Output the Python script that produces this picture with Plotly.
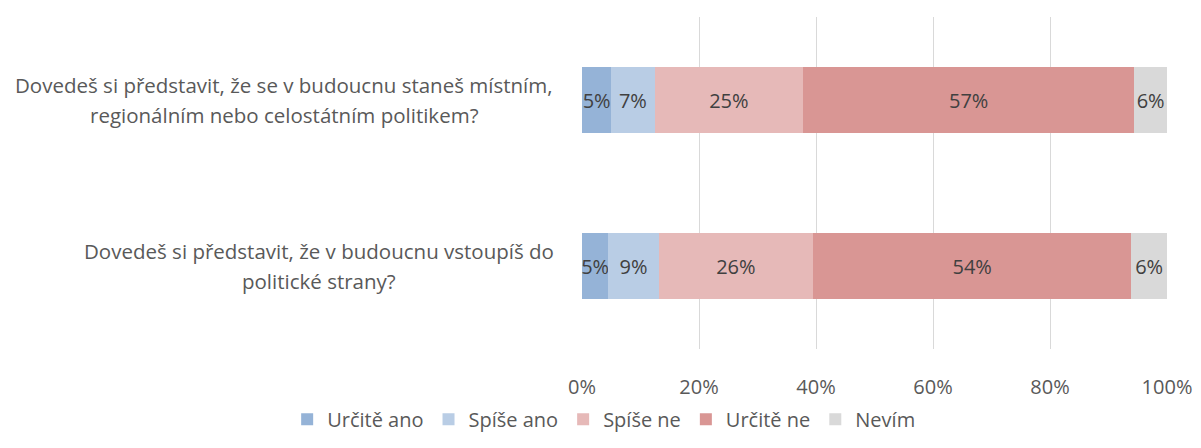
import plotly.graph_objects as go

questions = [
    "Dovedeš si představit, že se v budoucnu staneš místním, regionálním nebo celostátním politikem?",
    "Dovedeš si představit, že v budoucnu vstoupíš do politické strany?",
]
question_lines = [
    ["Dovedeš si představit, že se v budoucnu staneš místním,", "regionálním nebo celostátním politikem?"],
    ["Dovedeš si představit, že v budoucnu vstoupíš do", "politické strany?"],
]
series_names = ["Určitě ano", "Spíše ano", "Spíše ne", "Určitě ne", "Nevím"]
urcite_ano = [5.0, 4.5]
spise_ano = [7.4, 8.6]
spise_ne = [25.4, 26.4]
urcite_ne = [56.6, 54.4]
nevim = [5.6, 6.1]
series_values = [urcite_ano, spise_ano, spise_ne, urcite_ne, nevim]
colors = ["#95B3D7", "#B9CDE5", "#E6B9B8", "#D99694", "#D9D9D9"]
x_ticks = [0, 20, 40, 60, 80, 100]
x_tick_labels = [f"{v}%" for v in x_ticks]

FONT = "Open Sans, sans-serif"

fig = go.Figure()
for name, vals, col in zip(series_names, series_values, colors):
    fig.add_trace(go.Bar(
        y=questions, x=vals, name=name, orientation="h",
        marker=dict(color=col, line=dict(width=0)),
        texttemplate="%{x:.0f}%", textposition="inside", textangle=0,
        insidetextanchor="middle", constraintext="none",
        textfont=dict(family=FONT, size=20, color="#404040"),
        cliponaxis=False, hoverinfo="skip",
    ))

centers = [-0.5094, -0.4497]
for q, lines, cx in zip(questions, question_lines, centers):
    for ln, ys in zip(lines, [15, -15]):
        fig.add_annotation(
            x=cx, xref="paper", y=q, yref="y", yshift=ys,
            text=ln, showarrow=False, xanchor="center", yanchor="middle",
            font=dict(family=FONT, size=20.5, color="#595959"),
        )

fig.update_layout(
    width=1193, height=440,
    margin=dict(l=574, r=30, t=9, b=95),
    barmode="stack", bargap=0.6,
    plot_bgcolor="white", paper_bgcolor="white",
    font=dict(family=FONT, size=20, color="#595959"),
    showlegend=True,
    legend=dict(orientation="h", x=-0.504, xanchor="left", y=-0.27, yanchor="bottom",
                font=dict(family=FONT, size=20, color="#595959"),
                traceorder="normal", itemwidth=30),
    xaxis=dict(range=[0, 100], tickvals=x_ticks, ticktext=x_tick_labels,
               showgrid=True, gridcolor="#D9D9D9", gridwidth=1.3,
               zeroline=False, showline=False, ticks="",
               ticklabelstandoff=24,
               tickfont=dict(family=FONT, size=20, color="#595959")),
    yaxis=dict(categoryorder="array", categoryarray=questions,
               range=[1.5, -0.5], showticklabels=False, showgrid=False,
               zeroline=False, showline=False),
)

fig.write_html("out.html")
